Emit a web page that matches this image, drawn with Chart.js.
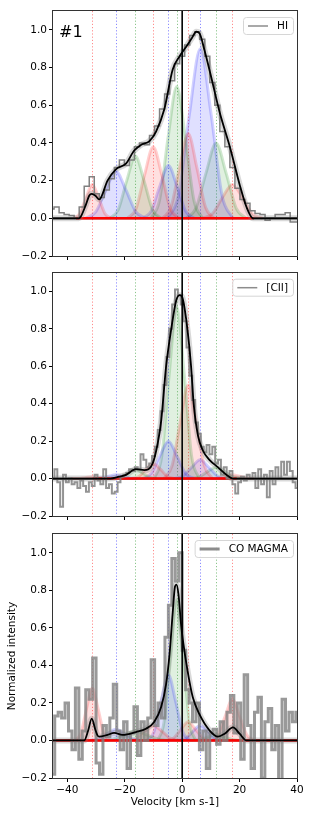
<!DOCTYPE html>
<html>
<head>
<meta charset="utf-8">
<script src="https://cdn.jsdelivr.net/npm/chart.js@4.4.1/dist/chart.umd.min.js"></script>
<style>
  html, body { margin: 0; padding: 0; background: #fff; }
  body { width: 314px; height: 816px; position: relative; overflow: hidden; }
  canvas { position: absolute; left: 0; }
</style>
</head>
<body>
<canvas id="hiChart" width="314" height="266" style="top:0px"></canvas>
<canvas id="ciiChart" width="314" height="264" style="top:262px"></canvas>
<canvas id="coChart" width="314" height="292" style="top:524px"></canvas>
<script>
// Axis ticks
const velTicks = [-40, -20, 0, 20, 40];
const intTicks = [-0.2, 0, 0.2, 0.4, 0.6, 0.8, 1.0];

// Fitted component centres (dotted lines), same for all three lines
const compCenters = [-31.3, -23.1, -16.3, -10.1, -4.8, -1.9, 2.1, 6.3, 11.8, 17.5];

// ---- HI ----
const hiVel = [-45.5, -43.75, -42, -40.25, -38.5, -36.75, -35, -33.25, -31.5, -29.75,
  -28, -26.25, -24.5, -22.75, -21, -19.25, -17.5, -15.75, -14, -12.25,
  -10.5, -8.75, -7, -5.25, -3.5, -1.75, 0, 1.75, 3.5, 5.25,
  7, 8.75, 10.5, 12.25, 14, 15.75, 17.5, 19.25, 21, 22.75,
  24.5, 26.25, 28, 29.75, 31.5, 33.25, 35, 36.75, 38.5, 40.25];
const hiInt = [0.05, 0.06, 0.03, 0.02, 0.015, 0.0, 0.06, 0.17, 0.22, 0.13,
  0.11, 0.15, 0.21, 0.27, 0.31, 0.28, 0.31, 0.38, 0.40, 0.39,
  0.44, 0.49, 0.58, 0.66, 0.73, 0.82, 0.86, 0.92, 0.97, 0.99,
  0.95, 0.86, 0.72, 0.60, 0.46, 0.38, 0.27, 0.16, 0.10, 0.08,
  0.04, 0.025, 0.02, -0.01, 0.0, 0.02, 0.02, 0.03, -0.02, -0.02];
const hiModelVel = [-45, -36, -35.3, -33.6, -32.4, -31.5, -30.2, -28.9, -26, -23.1,
  -19.6, -16.7, -14.3, -11.4, -9.1, -6.2, -3.3, -0.9, 1.4, 3.5,
  4.9, 6.1, 7.8, 10.1, 13.1, 16.6, 20, 22.4, 24.7, 40];
const hiModelInt = [0, 0, 0.01, 0.07, 0.12, 0.13, 0.12, 0.1, 0.2, 0.26,
  0.29, 0.36, 0.39, 0.41, 0.46, 0.58, 0.79, 0.86, 0.91, 0.96,
  0.99, 0.98, 0.89, 0.75, 0.56, 0.38, 0.18, 0.06, 0, 0];
const hiCompVel = [
  [-37.9, -35.7, -33.5, -31.3, -29.1, -26.9, -24.7],
  [-33.6, -30.1, -26.6, -23.1, -19.6, -16.1, -12.6],
  [-25.3, -22.3, -19.3, -16.3, -13.3, -10.3, -7.3],
  [-19.1, -16.1, -13.1, -10.1, -7.1, -4.1, -1.1],
  [-13.8, -10.8, -7.8, -4.8, -1.8, 1.2, 4.2],
  [-10.9, -7.9, -4.9, -1.9, 1.1, 4.1, 7.1],
  [-6.9, -3.9, -0.9, 2.1, 5.1, 8.1, 11.1],
  [-5.1, -1.3, 2.5, 6.3, 10.1, 13.9, 17.7],
  [1.3, 4.8, 8.3, 11.8, 15.3, 18.8, 22.3],
  [7, 10.5, 14, 17.5, 21, 24.5, 28]
];
const hiCompInt = [
  [0, 0.025, 0.11, 0.18, 0.11, 0.025, 0],
  [0, 0.034, 0.15, 0.25, 0.15, 0.034, 0],
  [0, 0.045, 0.2, 0.33, 0.2, 0.045, 0],
  [0, 0.05, 0.23, 0.38, 0.23, 0.05, 0],
  [0, 0.038, 0.17, 0.28, 0.17, 0.038, 0],
  [0, 0.095, 0.43, 0.7, 0.43, 0.095, 0],
  [0, 0.06, 0.27, 0.45, 0.27, 0.06, 0],
  [0, 0.12, 0.55, 0.9, 0.55, 0.12, 0],
  [0, 0.054, 0.24, 0.4, 0.24, 0.054, 0],
  [0, 0.024, 0.11, 0.18, 0.11, 0.024, 0]
];
const hiBaseline = [-37, 25];

// ---- [CII] ----
const ciiVel = [-45, -44, -43, -42, -41, -40, -39, -38, -37, -36,
  -35, -34, -33, -32, -31, -30, -29, -28, -27, -26,
  -25, -24, -23, -22, -21, -20, -19, -18, -17, -16,
  -15, -14, -13, -12, -11, -10, -9, -8, -7, -6,
  -5, -4, -3, -2, -1, 0, 1, 2, 3, 4,
  5, 6, 7, 8, 9, 10, 11, 12, 13, 14,
  15, 16, 17, 18, 19, 20, 21, 22, 23, 24,
  25, 26, 27, 28, 29, 30, 31, 32, 33, 34,
  35, 36, 37, 38, 39, 40];
const ciiInt = [0.0, 0.05, -0.02, -0.15, 0.02, -0.02, 0.0, -0.03, -0.02, -0.05,
  -0.01, -0.04, -0.07, -0.02, -0.04, 0.02, -0.01, -0.03, 0.05, -0.05,
  -0.03, -0.08, -0.07, -0.02, 0.01, 0.02, 0.03, 0.05, 0.04, 0.06,
  0.05, 0.13, 0.10, 0.06, 0.08, 0.12, 0.17, 0.26, 0.36, 0.5,
  0.65, 0.8, 0.93, 1.01, 0.98, 0.93, 0.84, 0.70, 0.55, 0.42,
  0.30, 0.24, 0.17, 0.14, 0.18, 0.13, 0.17, 0.08, 0.10, 0.02,
  0.06, 0.0, 0.04, -0.03, -0.08, -0.02, 0.01, -0.01, 0.02, 0.0,
  0.03, -0.05, 0.05, -0.03, 0.02, -0.1, 0.04, -0.03, 0.06, 0.0,
  0.09, 0.02, 0.09, 0.04, -0.02, -0.05];
const ciiModelVel = [-45, -25, -22, -19.6, -16.1, -13.2, -10.3, -8.5, -7.3, -5.6,
  -3.8, -2.1, -0.9, 0, 1.4, 3.1, 4.0, 5.5, 7.2, 9.5,
  12.5, 15.4, 17.7, 40];
const ciiModelInt = [0, 0, 0.01, 0.02, 0.05, 0.045, 0.08, 0.19, 0.31, 0.6,
  0.8, 0.95, 0.98, 0.97, 0.85, 0.6, 0.4, 0.23, 0.15, 0.1,
  0.06, 0.02, 0, 0];
const ciiCompVel = [
  [-38.8, -36.3, -33.8, -31.3, -28.8, -26.3, -23.8],
  [-30.6, -28.1, -25.6, -23.1, -20.6, -18.1, -15.6],
  [-23.8, -21.3, -18.8, -16.3, -13.8, -11.3, -8.8],
  [-17.6, -15.1, -12.6, -10.1, -7.6, -5.1, -2.6],
  [-13.8, -10.8, -7.8, -4.8, -1.8, 1.2, 4.2],
  [-9.7, -7.1, -4.5, -1.9, 0.7, 3.3, 5.9],
  [-6.3, -3.5, -0.7, 2.1, 4.9, 7.7, 10.5],
  [-2.7, 0.3, 3.3, 6.3, 9.3, 12.3, 15.3],
  [2.8, 5.8, 8.8, 11.8, 14.8, 17.8, 20.8],
  [10, 12.5, 15, 17.5, 20, 22.5, 25]
];
const ciiCompInt = [
  [0, 0, 0.005, 0.01, 0.005, 0, 0],
  [0, 0.003, 0.012, 0.02, 0.012, 0.003, 0],
  [0, 0.007, 0.03, 0.05, 0.03, 0.007, 0],
  [0, 0.011, 0.05, 0.08, 0.05, 0.011, 0],
  [0, 0.027, 0.12, 0.2, 0.12, 0.027, 0],
  [0, 0.12, 0.56, 0.92, 0.56, 0.12, 0],
  [0, 0.07, 0.3, 0.5, 0.3, 0.07, 0],
  [0, 0.014, 0.06, 0.1, 0.06, 0.014, 0],
  [0, 0.008, 0.037, 0.06, 0.037, 0.008, 0],
  [0, 0.003, 0.012, 0.02, 0.012, 0.003, 0]
];
const ciiBaseline = [-31, 19];

// ---- CO MAGMA ----
const coVel = [-45.0, -43.8, -42.6, -41.4, -40.2, -39.0, -37.8, -36.6, -35.4, -34.2,
  -33.0, -31.8, -30.6, -29.4, -28.2, -27.0, -25.8, -24.6, -23.4, -22.2,
  -21.0, -19.8, -18.6, -17.4, -16.2, -15.0, -13.8, -12.6, -11.4, -10.2,
  -9.0, -7.8, -6.6, -5.4, -4.2, -3.0, -1.8, -0.6, 0.6, 1.8,
  3.0, 4.2, 5.4, 6.6, 7.8, 9.0, 10.2, 11.4, 12.6, 13.8,
  15.0, 16.2, 17.4, 18.6, 19.8, 21.0, 22.2, 23.4, 24.6, 25.8,
  27.0, 28.2, 29.4, 30.6, 31.8, 33.0, 34.2, 35.4, 36.6, 37.8,
  39.0, 40.2];
const coInt = [-0.18, 0.13, 0.15, 0.12, 0.2, 0.05, -0.05, 0.28, -0.1, 0.05,
  0.27, 0.22, 0.44, -0.12, -0.18, 0.08, 0.02, 0.12, 0.3, 0.05,
  -0.05, 0.1, -0.15, 0.04, 0.18, -0.08, 0.1, 0.0, 0.12, 0.43,
  0.08, 0.2, 0.12, 0.55, 0.72, 0.97, 0.85, 1.0, 0.48, 0.27,
  0.2, 0.1, 0.2, -0.05, 0.05, -0.15, 0.04, 0.06, -0.02, 0.1,
  0.0, 0.15, 0.24, 0.04, 0.2, -0.1, 0.35, 0.08, -0.15, 0.15,
  0.23, -0.2, 0.1, 0.17, -0.05, 0.08, -0.22, 0.22, 0.05, 0.15,
  0.1, 0.15];
const coModelVel = [-45, -34.1, -32.8, -31.5, -30.3, -29.5, -28.9, -26, -23.7, -20.8,
  -16.1, -12.6, -9.7, -7.3, -5.6, -4.4, -3.3, -2.5, -2.0, -1.3,
  -0.4, 0.2, 2.0, 3.7, 6.0, 9.5, 12.5, 14.8, 17.7, 20,
  22.4, 40];
const coModelInt = [0, 0, 0.05, 0.116, 0.06, 0.027, 0.02, 0.03, 0.04, 0.03,
  0.045, 0.0625, 0.1, 0.18, 0.3, 0.46, 0.68, 0.82, 0.83, 0.78,
  0.62, 0.54, 0.36, 0.23, 0.14, 0.054, 0.02, 0.036, 0.07, 0.036,
  0, 0];
const coCompVel = [
  [-37.3, -35.3, -33.3, -31.3, -29.3, -27.3, -25.3],
  [-32.1, -29.1, -26.1, -23.1, -20.1, -17.1, -14.1],
  [-28.3, -24.3, -20.3, -16.3, -12.3, -8.3, -4.3],
  [-19.1, -16.1, -13.1, -10.1, -7.1, -4.1, -1.1],
  [-12.3, -9.8, -7.3, -4.8, -2.3, 0.2, 2.7],
  [-8.5, -6.3, -4.1, -1.9, 0.3, 2.5, 4.7],
  [-5.4, -2.9, -0.4, 2.1, 4.6, 7.1, 9.6],
  [-1.2, 1.3, 3.8, 6.3, 8.8, 11.3, 13.8],
  [2.8, 5.8, 8.8, 11.8, 14.8, 17.8, 20.8],
  [10, 12.5, 15, 17.5, 20, 22.5, 25]
];
const coCompInt = [
  [0, 0.038, 0.17, 0.28, 0.17, 0.038, 0],
  [0, 0.008, 0.036, 0.06, 0.036, 0.008, 0],
  [0, 0.007, 0.03, 0.05, 0.03, 0.007, 0],
  [0, 0.011, 0.05, 0.08, 0.05, 0.011, 0],
  [0, 0.047, 0.21, 0.35, 0.21, 0.047, 0],
  [0, 0.1, 0.46, 0.75, 0.46, 0.1, 0],
  [0, 0.014, 0.06, 0.1, 0.06, 0.014, 0],
  [0, 0.011, 0.05, 0.08, 0.05, 0.011, 0],
  [0, 0.004, 0.018, 0.03, 0.018, 0.004, 0],
  [0, 0.03, 0.13, 0.22, 0.13, 0.03, 0]
];
const coBaseline = [-45, 40];

// matplotlib r, b, g
const compRgb = ["255,0,0", "0,0,255", "0,128,0"];

Chart.defaults.font.family = "'DejaVu Sans', sans-serif";
Chart.defaults.font.size = 10.5;
Chart.defaults.color = "#000";

const pts = (xs, ys) => xs.map((x, i) => ({ x: x, y: ys[i] }));
const fmtTick = (v) => (v < 0 ? "\u2212" : "") + Math.abs(v).toFixed(1);

// dotted centre lines, zero lines, frame, legend box and panel tag
const panelDeco = {
  id: "panelDeco",
  beforeDatasetsDraw(chart) {
    const { ctx, chartArea: a, scales: { x, y } } = chart;
    ctx.save();
    ctx.beginPath();
    ctx.rect(a.left, a.top, a.width, a.height);
    ctx.clip();
    ctx.lineWidth = 1;
    ctx.setLineDash([1.2, 2]);
    compCenters.forEach((c, i) => {
      const px = Math.round(x.getPixelForValue(c)) + 0.5;
      ctx.strokeStyle = "rgba(" + compRgb[i % 3] + ",0.45)";
      ctx.beginPath();
      ctx.moveTo(px, a.top);
      ctx.lineTo(px, a.bottom);
      ctx.stroke();
    });
    ctx.setLineDash([]);
    const py = y.getPixelForValue(0);
    ctx.strokeStyle = "#000";
    ctx.lineWidth = 1.8;
    ctx.beginPath();
    ctx.moveTo(a.left, py);
    ctx.lineTo(a.right, py);
    ctx.stroke();
    ctx.restore();
  },
  afterDatasetsDraw(chart) {
    const { ctx, chartArea: a, scales: { x } } = chart;
    const px = x.getPixelForValue(0);
    ctx.save();
    ctx.strokeStyle = "#000";
    ctx.lineWidth = 1.6;
    ctx.beginPath();
    ctx.moveTo(px, a.top);
    ctx.lineTo(px, a.bottom);
    ctx.stroke();
    ctx.restore();
  },
  afterDraw(chart, args, opts) {
    const { ctx, chartArea: a } = chart;
    ctx.save();
    ctx.strokeStyle = "#333";
    ctx.lineWidth = 1;
    ctx.strokeRect(Math.round(a.left) - 0.5, Math.round(a.top) - 0.5,
      Math.round(a.width) + 1, Math.round(a.height) + 1);

    // legend
    ctx.font = "10.5px 'DejaVu Sans', sans-serif";
    const tw = ctx.measureText(opts.label).width;
    const bw = 5 + 20 + 9 + tw + 5;
    const bx = a.right - 4 - bw;
    const by = a.top + 6;
    const bh = 17;
    ctx.fillStyle = "rgba(255,255,255,0.85)";
    ctx.strokeStyle = "#d6d6d6";
    ctx.lineWidth = 1;
    ctx.beginPath();
    ctx.roundRect(bx + 0.5, by + 0.5, bw, bh, 3);
    ctx.fill();
    ctx.stroke();
    ctx.strokeStyle = "rgba(128,128,128,0.9)";
    ctx.lineWidth = opts.lineWidth;
    ctx.beginPath();
    ctx.moveTo(bx + 5, by + bh / 2 + 0.5);
    ctx.lineTo(bx + 25, by + bh / 2 + 0.5);
    ctx.stroke();
    ctx.fillStyle = "#000";
    ctx.textBaseline = "middle";
    ctx.fillText(opts.label, bx + 34, by + bh / 2 + 1);

    if (opts.tag) {
      ctx.font = "16px 'DejaVu Sans', sans-serif";
      ctx.textBaseline = "alphabetic";
      ctx.fillText(opts.tag, a.left + 6, a.top + 26);
    }
    ctx.restore();
  }
};

function makePanel(id, p) {
  const datasets = [];

  // fitted model (black) with its sample spread (grey)
  datasets.push({
    data: pts(p.modelVel, p.modelInt), borderColor: "#000", borderWidth: 1.8,
    cubicInterpolationMode: "monotone", order: 0
  });
  datasets.push({
    data: pts(p.modelVel, p.modelInt), borderColor: "rgba(128,128,128,0.3)", borderWidth: 6,
    cubicInterpolationMode: "monotone", order: 2
  });
  // observed spectrum
  datasets.push({
    data: pts(p.vel, p.int), borderColor: p.specColor, borderWidth: p.specWidth,
    stepped: "middle", order: 1
  });
  // component tails along zero
  datasets.push({
    data: pts(p.baseline, [0, 0]), borderColor: "rgb(255,0,0)", borderWidth: 2.5, order: 3
  });
  // Gaussian components, drawn soft like a bundle of posterior samples
  p.compVel.forEach((cv, i) => {
    const rgb = compRgb[i % 3];
    datasets.push({
      data: pts(cv, p.compInt[i]),
      borderColor: "rgba(" + rgb + ",0.18)",
      backgroundColor: "rgba(" + rgb + ",0.12)",
      borderWidth: 3, fill: "origin",
      cubicInterpolationMode: "monotone", order: 4
    });
  });

  return new Chart(document.getElementById(id), {
    type: "line",
    data: { datasets: datasets },
    options: {
      responsive: false,
      animation: false,
      devicePixelRatio: 1,
      layout: { padding: { top: p.padTop, right: 17, left: 0, bottom: 0 } },
      elements: { point: { radius: 0 } },
      plugins: {
        legend: { display: false },
        tooltip: { enabled: false },
        panelDeco: { label: p.label, lineWidth: p.legendWidth, tag: p.tag }
      },
      scales: {
        x: {
          type: "linear", min: -45, max: 40,
          afterBuildTicks: (s) => { s.ticks = velTicks.map((v) => ({ value: v })); },
          afterFit: (s) => { s.height = p.xHeight; },
          grid: { drawOnChartArea: false, tickLength: 4, color: "#000" },
          border: { display: false },
          ticks: { display: p.showX, padding: 2, maxRotation: 0,
            callback: (v) => (v < 0 ? "\u2212" : "") + Math.abs(v) },
          title: { display: p.showX, text: "Velocity [km s-1]",
            padding: { top: 0, bottom: 7 }, font: { size: 10.5 } }
        },
        y: {
          type: "linear", min: -0.2, max: 1.1,
          afterBuildTicks: (s) => { s.ticks = intTicks.map((v) => ({ value: v })); },
          afterFit: (s) => { s.width = 53; },
          grid: { drawOnChartArea: false, tickLength: 4, color: "#000" },
          border: { display: false },
          ticks: { padding: 2, callback: fmtTick },
          title: { display: p.showYTitle, text: "Normalized intensity",
            padding: { top: 6, bottom: 0 }, font: { size: 10.5 } }
        }
      }
    },
    plugins: [panelDeco]
  });
}

makePanel("hiChart", {
  vel: hiVel, int: hiInt, modelVel: hiModelVel, modelInt: hiModelInt,
  compVel: hiCompVel, compInt: hiCompInt, baseline: hiBaseline,
  specColor: "rgba(115,115,115,0.9)", specWidth: 1.5,
  label: "HI", legendWidth: 1.5, tag: "#1",
  padTop: 11, xHeight: 10, showX: false, showYTitle: false
});

makePanel("ciiChart", {
  vel: ciiVel, int: ciiInt, modelVel: ciiModelVel, modelInt: ciiModelInt,
  compVel: ciiCompVel, compInt: ciiCompInt, baseline: ciiBaseline,
  specColor: "rgba(128,128,128,0.85)", specWidth: 2,
  label: "[CII]", legendWidth: 1.5, tag: null,
  padTop: 10.7, xHeight: 10, showX: false, showYTitle: false
});

makePanel("coChart", {
  vel: coVel, int: coInt, modelVel: coModelVel, modelInt: coModelInt,
  compVel: coCompVel, compInt: coCompInt, baseline: coBaseline,
  specColor: "rgba(128,128,128,0.8)", specWidth: 3,
  label: "CO MAGMA", legendWidth: 3, tag: null,
  padTop: 10, xHeight: 38, showX: true, showYTitle: true
});
</script>
</body>
</html>
